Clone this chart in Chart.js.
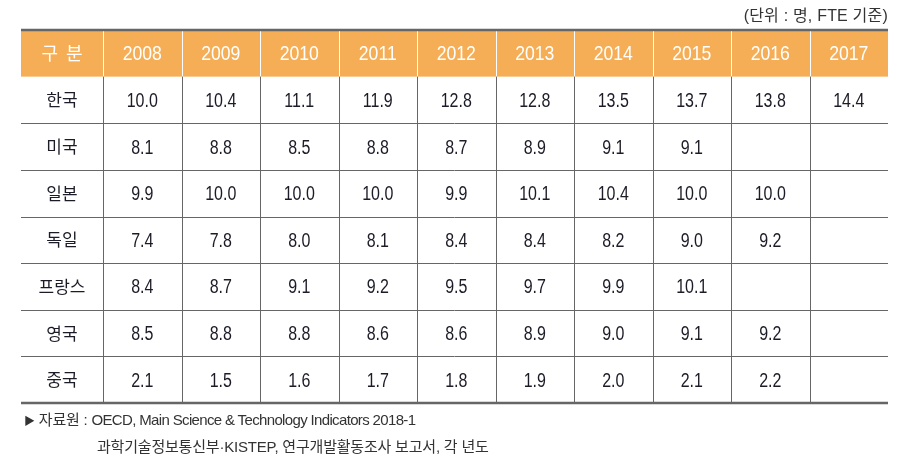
<!DOCTYPE html>
<html>
<head>
<meta charset="utf-8">
<script src="https://cdn.jsdelivr.net/npm/chart.js@4/dist/chart.umd.min.js"></script>
<style>
  body { margin: 0; background: #fff; }
  #wrap { position: relative; width: 908px; height: 460px; }
  #unit { position: absolute; right: 20px; top: 2px; font: 16px "Liberation Sans", "Noto Sans CJK KR", sans-serif; color: #333; letter-spacing: 0.2px; }
  .note { position: absolute; font: 15px "Liberation Sans", "Noto Sans CJK KR", sans-serif; color: #333; white-space: nowrap; letter-spacing: -0.2px; }
  .tight { letter-spacing: -0.65px; }
</style>
</head>
<body>
<div id="wrap">
  <canvas id="tbl" width="908" height="460"></canvas>
  <div id="unit">(단위 : 명, FTE 기준)</div>
  <div class="note" style="left:24px; top:408px;"><span style="font-size:11px;">▶</span> 자료원 : <span class="tight">OECD, Main Science &amp; Technology Indicators 2018-1</span></div>
  <div class="note" style="left:97px; top:435px;">과학기술정보통신부·KISTEP, 연구개발활동조사 보고서, 각 년도</div>
</div>
<script>
// === ДАННЫЕ ===
const headLabel = '구 분';
const years = ['2008', '2009', '2010', '2011', '2012', '2013', '2014', '2015', '2016', '2017'];
const countries = ['한국', '미국', '일본', '독일', '프랑스', '영국', '중국'];

const korea   = [10.0, 10.4, 11.1, 11.9, 12.8, 12.8, 13.5, 13.7, 13.8, 14.4];
const usa     = [8.1, 8.8, 8.5, 8.8, 8.7, 8.9, 9.1, 9.1, null, null];
const japan   = [9.9, 10.0, 10.0, 10.0, 9.9, 10.1, 10.4, 10.0, 10.0, null];
const germany = [7.4, 7.8, 8.0, 8.1, 8.4, 8.4, 8.2, 9.0, 9.2, null];
const france  = [8.4, 8.7, 9.1, 9.2, 9.5, 9.7, 9.9, 10.1, null, null];
const uk      = [8.5, 8.8, 8.8, 8.6, 8.6, 8.9, 9.0, 9.1, 9.2, null];
const china   = [2.1, 1.5, 1.6, 1.7, 1.8, 1.9, 2.0, 2.1, 2.2, null];

const rows = [korea, usa, japan, germany, france, uk, china];

// точки-ячейки: x = номер столбца, y = номер строки (0 — шапка)
const cells = [];
rows.forEach((vals, r) => {
    vals.forEach((v, c) => {
        if (v !== null) cells.push({ x: c + 0.5, y: r + 1.5, v: v });
    });
});

const FIRST_COL = 1.045;   // ширина первого столбца в единицах шкалы
const LINE = '#666666';
const HEAD_BG = '#F5AE55';
const TXT = '#1c1c28';

function squeezeText(ctx, s, x, y, sx) {
    ctx.save();
    ctx.translate(x, y);
    ctx.scale(sx, 1);
    ctx.fillText(s, 0, 0);
    ctx.restore();
}

// === ОТРИСОВКА ТАБЛИЦЫ ===
const tablePlugin = {
    id: 'tablePlugin',
    beforeDatasetsDraw(chart) {
        const { ctx, scales: { x, y } } = chart;
        const left = x.getPixelForValue(-FIRST_COL);
        const right = x.getPixelForValue(years.length);
        const top = y.getPixelForValue(0);
        const headBottom = y.getPixelForValue(1);
        const bottom = y.getPixelForValue(countries.length + 1);

        ctx.save();
        // шапка
        ctx.fillStyle = HEAD_BG;
        ctx.fillRect(left, top, right - left, headBottom - top);

        ctx.lineWidth = 1;
        for (let c = 0; c < years.length; c++) {
            const px = Math.round(x.getPixelForValue(c)) + 0.5;
            ctx.strokeStyle = '#ffffff';
            ctx.beginPath(); ctx.moveTo(px, top); ctx.lineTo(px, headBottom); ctx.stroke();
            ctx.strokeStyle = LINE;
            ctx.beginPath(); ctx.moveTo(px, headBottom); ctx.lineTo(px, bottom); ctx.stroke();
        }
        ctx.strokeStyle = LINE;
        for (let r = 2; r <= countries.length; r++) {
            const py = Math.round(y.getPixelForValue(r)) + 0.5;
            ctx.beginPath(); ctx.moveTo(left, py); ctx.lineTo(right, py); ctx.stroke();
        }
        ctx.lineWidth = 2.5;
        ctx.beginPath(); ctx.moveTo(left, top); ctx.lineTo(right, top); ctx.stroke();
        ctx.beginPath(); ctx.moveTo(left, bottom); ctx.lineTo(right, bottom); ctx.stroke();

        // тексты шапки
        ctx.textAlign = 'center';
        ctx.textBaseline = 'middle';
        ctx.fillStyle = '#ffffff';
        const hy = y.getPixelForValue(0.5) + 1;
        ctx.font = '18px "Noto Sans CJK KR"';
        ctx.letterSpacing = '2px';
        ctx.fillText(headLabel, x.getPixelForValue(-FIRST_COL / 2) + 1, hy - 1);
        ctx.letterSpacing = '0px';
        ctx.font = '21px "Liberation Sans"';
        years.forEach((yr, c) => squeezeText(ctx, yr, x.getPixelForValue(c + 0.5), hy, 0.84));

        // названия стран
        ctx.fillStyle = TXT;
        ctx.font = '17px "Noto Sans CJK KR"';
        countries.forEach((name, r) => {
            ctx.fillText(name, x.getPixelForValue(-FIRST_COL / 2), y.getPixelForValue(r + 1.5));
        });
        ctx.restore();
    },
    afterDatasetsDraw(chart) {
        const { ctx } = chart;
        const meta = chart.getDatasetMeta(0);
        ctx.save();
        ctx.textAlign = 'center';
        ctx.textBaseline = 'middle';
        ctx.fillStyle = TXT;
        ctx.font = '20px "Liberation Sans"';
        meta.data.forEach((pt, i) => {
            squeezeText(ctx, cells[i].v.toFixed(1), pt.x, pt.y + 1.5, 0.8);
        });
        ctx.restore();
    }
};

function draw() {
    new Chart(document.getElementById('tbl'), {
        type: 'scatter',
        data: {
            datasets: [{
                data: cells,
                pointRadius: 0,
                pointHoverRadius: 0
            }]
        },
        options: {
            responsive: false,
            animation: false,
            devicePixelRatio: 1,
            layout: { padding: { left: 21, right: 20, top: 30, bottom: 57 } },
            plugins: { legend: { display: false }, tooltip: { enabled: false } },
            scales: {
                x: { type: 'linear', min: -FIRST_COL, max: years.length, display: false },
                y: { type: 'linear', min: 0, max: countries.length + 1, reverse: true, display: false }
            }
        },
        plugins: [tablePlugin]
    });
}

Promise.all([
    document.fonts.load('20px "Liberation Sans"'),
    document.fonts.load('17px "Noto Sans CJK KR"', '한국')
]).then(draw, draw);
</script>
</body>
</html>
